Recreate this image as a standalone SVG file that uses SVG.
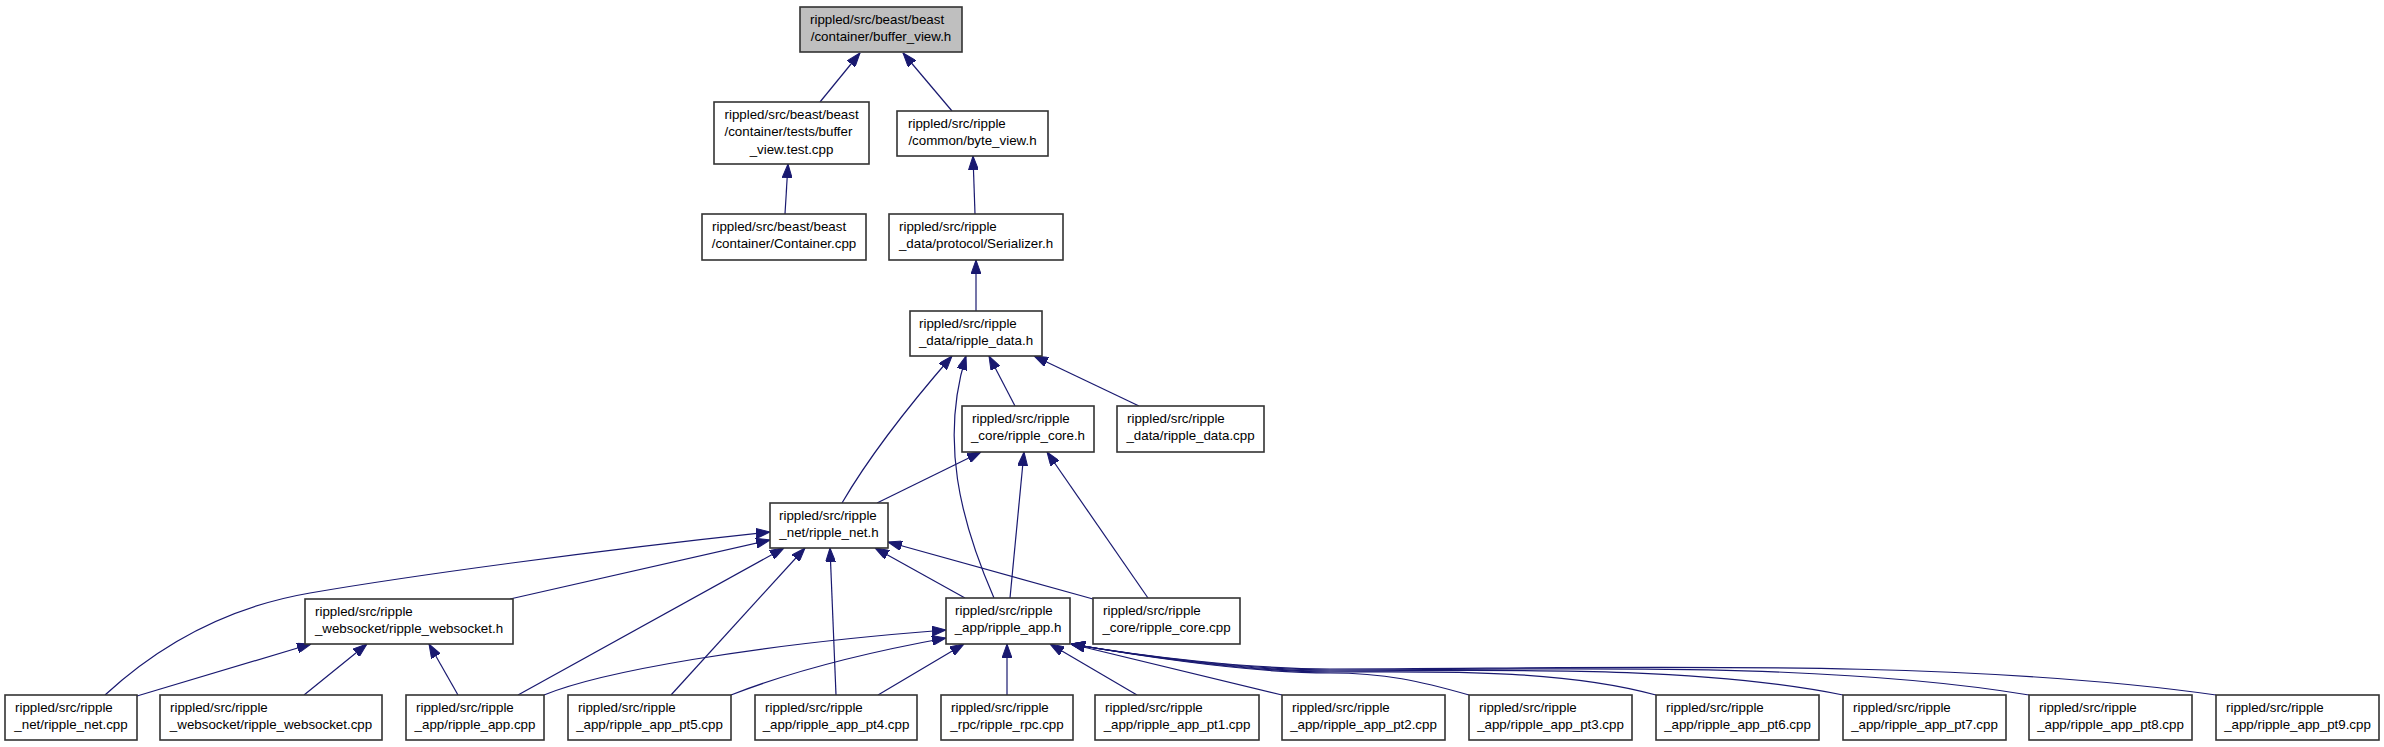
<svg xmlns="http://www.w3.org/2000/svg" width="2384" height="747" viewBox="0 0 2384 747">
<style>
.n rect{fill:#fff;stroke:#333;stroke-width:1.6}
.n.root rect{fill:#bfbfbf}
.n text{font-family:"Liberation Sans",Arial,Helvetica,sans-serif;font-size:13.33px;fill:#000}
.n text.c{text-anchor:middle}
#edges path{fill:none;stroke:#191970;stroke-width:1.2;marker-end:url(#arr)}
</style>
<defs>
<marker id="arr" markerUnits="userSpaceOnUse" viewBox="0 0 14 10" markerWidth="14" markerHeight="10" refX="14" refY="5" orient="auto">
<path d="M0,0 L14,5 L0,10 z" fill="#191970" stroke="#191970" stroke-width="1"/>
</marker>
</defs>
<rect width="2384" height="747" fill="#fff"/>
<g id="edges">
<path d="M820,102 L860,53"/>
<path d="M952,111 L903,53"/>
<path d="M785,214 L788,164"/>
<path d="M975,214 L973,156"/>
<path d="M976,311 L976,260"/>
<path d="M1015,406 L989,356"/>
<path d="M1139,406 L1034,356"/>
<path d="M842,503 C870,455 905,410 952,356"/>
<path d="M994,598 C960,520 940,440 966,356"/>
<path d="M877,503 L981,452"/>
<path d="M1010,598 L1024,452"/>
<path d="M1148,598 L1047,452"/>
<path d="M105,695 C170,635 240,605 310,593 C415,575 600,550 770,532"/>
<path d="M137,696 L311,644"/>
<path d="M304,695 L367,644"/>
<path d="M458,695 L429,644"/>
<path d="M510,599 L770,540"/>
<path d="M518,695 L784,548"/>
<path d="M671,695 L805,548"/>
<path d="M836,695 L830,548"/>
<path d="M965,598 L875,548"/>
<path d="M1093,599 L888,542"/>
<path d="M544,695 C600,672 750,645 946,630"/>
<path d="M731,695 C800,668 880,650 946,638"/>
<path d="M878,695 L964,644"/>
<path d="M1007,695 L1007,644"/>
<path d="M1137,695 L1050,644"/>
<path d="M1282,695 L1071,644"/>
<path d="M1469,695 C1420,681 1385,673 1330,673 C1250,673 1140,656 1071,644"/>
<path d="M1656,695 C1558,668 1428,672 1330,672 C1250,672 1140,656 1071,644"/>
<path d="M1843,695 C1689,664 1484,671 1330,671 C1250,671 1140,656 1071,644"/>
<path d="M2029,695 C1819,660 1540,670 1330,670 C1250,670 1140,656 1071,644"/>
<path d="M2216,695 C1950,657 1596,669 1330,669 C1250,669 1140,656 1071,644"/>
</g>
<g id="n_buffer_view_h" class="n root"><rect x="800" y="7" width="162" height="45"/><text x="810" y="23.5">rippled/src/beast/beast</text><text class="c" x="881" y="40.5">/container/buffer_view.h</text></g>
<g id="n_buffer_view_test_cpp" class="n"><rect x="714" y="102" width="155" height="62"/><text x="724.5" y="118.5">rippled/src/beast/beast</text><text x="724.5" y="136">/container/tests/buffer</text><text class="c" x="791.5" y="153.5">_view.test.cpp</text></g>
<g id="n_byte_view_h" class="n"><rect x="897" y="111" width="151" height="45"/><text x="908" y="127.5">rippled/src/ripple</text><text class="c" x="972.5" y="144.5">/common/byte_view.h</text></g>
<g id="n_container_cpp" class="n"><rect x="702" y="214" width="164" height="46"/><text x="712" y="230.5">rippled/src/beast/beast</text><text class="c" x="784" y="247.5">/container/Container.cpp</text></g>
<g id="n_serializer_h" class="n"><rect x="889" y="214" width="174" height="46"/><text x="899" y="230.5">rippled/src/ripple</text><text class="c" x="976" y="247.5">_data/protocol/Serializer.h</text></g>
<g id="n_ripple_data_h" class="n"><rect x="910" y="311" width="132" height="45"/><text x="919" y="327.5">rippled/src/ripple</text><text class="c" x="976" y="344.5">_data/ripple_data.h</text></g>
<g id="n_ripple_core_h" class="n"><rect x="962" y="406" width="132" height="46"/><text x="972" y="422.5">rippled/src/ripple</text><text class="c" x="1028" y="439.5">_core/ripple_core.h</text></g>
<g id="n_ripple_data_cpp" class="n"><rect x="1117" y="406" width="147" height="46"/><text x="1127" y="422.5">rippled/src/ripple</text><text class="c" x="1190.5" y="439.5">_data/ripple_data.cpp</text></g>
<g id="n_ripple_net_h" class="n"><rect x="770" y="503" width="118" height="45"/><text x="779" y="519.5">rippled/src/ripple</text><text class="c" x="829" y="536.5">_net/ripple_net.h</text></g>
<g id="n_ripple_websocket_h" class="n"><rect x="305" y="599" width="208" height="45"/><text x="315" y="615.5">rippled/src/ripple</text><text class="c" x="409" y="632.5">_websocket/ripple_websocket.h</text></g>
<g id="n_ripple_app_h" class="n"><rect x="946" y="598" width="124" height="46"/><text x="955" y="614.5">rippled/src/ripple</text><text class="c" x="1008" y="631.5">_app/ripple_app.h</text></g>
<g id="n_ripple_core_cpp" class="n"><rect x="1093" y="598" width="147" height="46"/><text x="1103" y="614.5">rippled/src/ripple</text><text class="c" x="1166.5" y="631.5">_core/ripple_core.cpp</text></g>
<g id="n_ripple_net_cpp" class="n"><rect x="5" y="695" width="132" height="45"/><text x="15" y="711.5">rippled/src/ripple</text><text class="c" x="71" y="728.5">_net/ripple_net.cpp</text></g>
<g id="n_ripple_websocket_cpp" class="n"><rect x="160" y="695" width="222" height="45"/><text x="170" y="711.5">rippled/src/ripple</text><text class="c" x="271" y="728.5">_websocket/ripple_websocket.cpp</text></g>
<g id="n_ripple_app_cpp" class="n"><rect x="406" y="695" width="138" height="45"/><text x="416" y="711.5">rippled/src/ripple</text><text class="c" x="475" y="728.5">_app/ripple_app.cpp</text></g>
<g id="n_ripple_app_pt5_cpp" class="n"><rect x="568" y="695" width="163" height="45"/><text x="578" y="711.5">rippled/src/ripple</text><text class="c" x="649.5" y="728.5">_app/ripple_app_pt5.cpp</text></g>
<g id="n_ripple_app_pt4_cpp" class="n"><rect x="755" y="695" width="162" height="45"/><text x="765" y="711.5">rippled/src/ripple</text><text class="c" x="836" y="728.5">_app/ripple_app_pt4.cpp</text></g>
<g id="n_ripple_rpc_cpp" class="n"><rect x="941" y="695" width="132" height="45"/><text x="951" y="711.5">rippled/src/ripple</text><text class="c" x="1007" y="728.5">_rpc/ripple_rpc.cpp</text></g>
<g id="n_ripple_app_pt1_cpp" class="n"><rect x="1095" y="695" width="164" height="45"/><text x="1105" y="711.5">rippled/src/ripple</text><text class="c" x="1177" y="728.5">_app/ripple_app_pt1.cpp</text></g>
<g id="n_ripple_app_pt2_cpp" class="n"><rect x="1282" y="695" width="163" height="45"/><text x="1292" y="711.5">rippled/src/ripple</text><text class="c" x="1363.5" y="728.5">_app/ripple_app_pt2.cpp</text></g>
<g id="n_ripple_app_pt3_cpp" class="n"><rect x="1469" y="695" width="163" height="45"/><text x="1479" y="711.5">rippled/src/ripple</text><text class="c" x="1550.5" y="728.5">_app/ripple_app_pt3.cpp</text></g>
<g id="n_ripple_app_pt6_cpp" class="n"><rect x="1656" y="695" width="163" height="45"/><text x="1666" y="711.5">rippled/src/ripple</text><text class="c" x="1737.5" y="728.5">_app/ripple_app_pt6.cpp</text></g>
<g id="n_ripple_app_pt7_cpp" class="n"><rect x="1843" y="695" width="163" height="45"/><text x="1853" y="711.5">rippled/src/ripple</text><text class="c" x="1924.5" y="728.5">_app/ripple_app_pt7.cpp</text></g>
<g id="n_ripple_app_pt8_cpp" class="n"><rect x="2029" y="695" width="163" height="45"/><text x="2039" y="711.5">rippled/src/ripple</text><text class="c" x="2110.5" y="728.5">_app/ripple_app_pt8.cpp</text></g>
<g id="n_ripple_app_pt9_cpp" class="n"><rect x="2216" y="695" width="163" height="45"/><text x="2226" y="711.5">rippled/src/ripple</text><text class="c" x="2297.5" y="728.5">_app/ripple_app_pt9.cpp</text></g>
</svg>
